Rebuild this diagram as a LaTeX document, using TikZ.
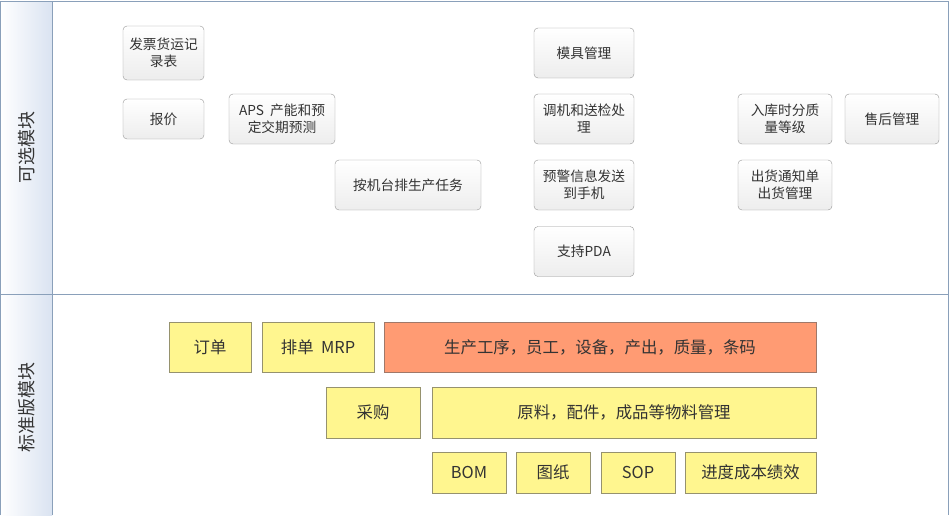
\documentclass[tikz,border=0pt]{standalone}
\usepackage{fontspec}
\setmainfont{Noto Sans CJK SC}
\usetikzlibrary{shadings}
\definecolor{lane-line}{RGB}{138,160,186}
\definecolor{lane-fill}{RGB}{218,227,241}
\definecolor{opt-line}{RGB}{150,150,150}
\definecolor{std-fill}{RGB}{255,246,143}
\definecolor{std-line}{RGB}{150,146,110}
\definecolor{hot-fill}{RGB}{255,155,115}
\definecolor{hot-line}{RGB}{160,120,105}
\definecolor{txt}{RGB}{51,51,51}

\tikzset{
	basebox/.style={inner sep=0pt, align=center, text=txt},
	optbox/.style={basebox, draw=opt-line, rounded corners=4pt,
		top color=white, bottom color=gray!14,
		font=\fontsize{13.7}{17}\selectfont},
	stdbox/.style={basebox, draw=std-line, fill=std-fill,
		font=\fontsize{16.4}{20}\selectfont},
	hotbox/.style={stdbox, draw=hot-line, fill=hot-fill},
	lanetitle/.style={rotate=90, text=txt, font=\fontsize{18}{20}\selectfont}
}

\begin{document}
\begin{tikzpicture}[x=1pt,y=-1pt]
	\useasboundingbox (0,0) rectangle (951,515);
	
	% Lanes
	\shade[left color=white, right color=lane-fill] (0.5,1) rectangle (52,515);
	\draw[lane-line] (0.5,515) -- (0.5,1) -- (948,1) -- (948,515);
	\draw[lane-line] (0.5,294) -- (948,294);
	\draw[lane-line] (52,1) -- (52,515);
	\node[lanetitle] (laneopt) at (27,147) {可选模块};
	\node[lanetitle] (lanestd) at (27,407) {标准版模块};
	
	% Optional modules
	\node[optbox, minimum width=81, minimum height=54] (fapiao) at (163.5,53) {发票货运记\\录表};
	\node[optbox, minimum width=81, minimum height=40] (baojia) at (163.5,119) {报价};
	\node[optbox, minimum width=106, minimum height=50] (aps) at (282,119) {APS\ \ 产能和预\\定交期预测};
	\node[optbox, minimum width=146, minimum height=50] (jitai) at (408,185) {按机台排生产任务};
	\node[optbox, minimum width=100, minimum height=50] (muju) at (584,53) {模具管理};
	\node[optbox, minimum width=100, minimum height=50] (tiaoji) at (584,119) {调机和送检处\\理};
	\node[optbox, minimum width=100, minimum height=50] (yujing) at (584,185) {预警信息发送\\到手机};
	\node[optbox, minimum width=100, minimum height=50] (pda) at (584,251.5) {支持PDA};
	\node[optbox, minimum width=94, minimum height=50] (ruku) at (785,119) {入库时分质\\量等级};
	\node[optbox, minimum width=94, minimum height=50] (shouhou) at (892,119) {售后管理};
	\node[optbox, minimum width=94, minimum height=50] (chuhuo) at (785,185) {出货通知单\\出货管理};
	
	% Standard modules
	\node[stdbox, minimum width=82, minimum height=50] (dingdan) at (210,347) {订单};
	\node[stdbox, minimum width=112, minimum height=50] (paidan) at (318,347) {排单\ \ MRP};
	\node[hotbox, minimum width=432, minimum height=50] (shengchan) at (600,347) {生产工序，员工，设备，产出，质量，条码};
	\node[stdbox, minimum width=94, minimum height=51] (caigou) at (373,412.5) {采购};
	\node[stdbox, minimum width=384, minimum height=51] (yuanliao) at (624,412.5) {原料，配件，成品等物料管理};
	\node[stdbox, minimum width=74, minimum height=41] (bom) at (469,472.5) {BOM};
	\node[stdbox, minimum width=74, minimum height=41] (tuzhi) at (553,472.5) {图纸};
	\node[stdbox, minimum width=74, minimum height=41] (sop) at (638,472.5) {SOP};
	\node[stdbox, minimum width=131, minimum height=41] (jindu) at (750.5,472.5) {进度成本绩效};
\end{tikzpicture}
\end{document}
